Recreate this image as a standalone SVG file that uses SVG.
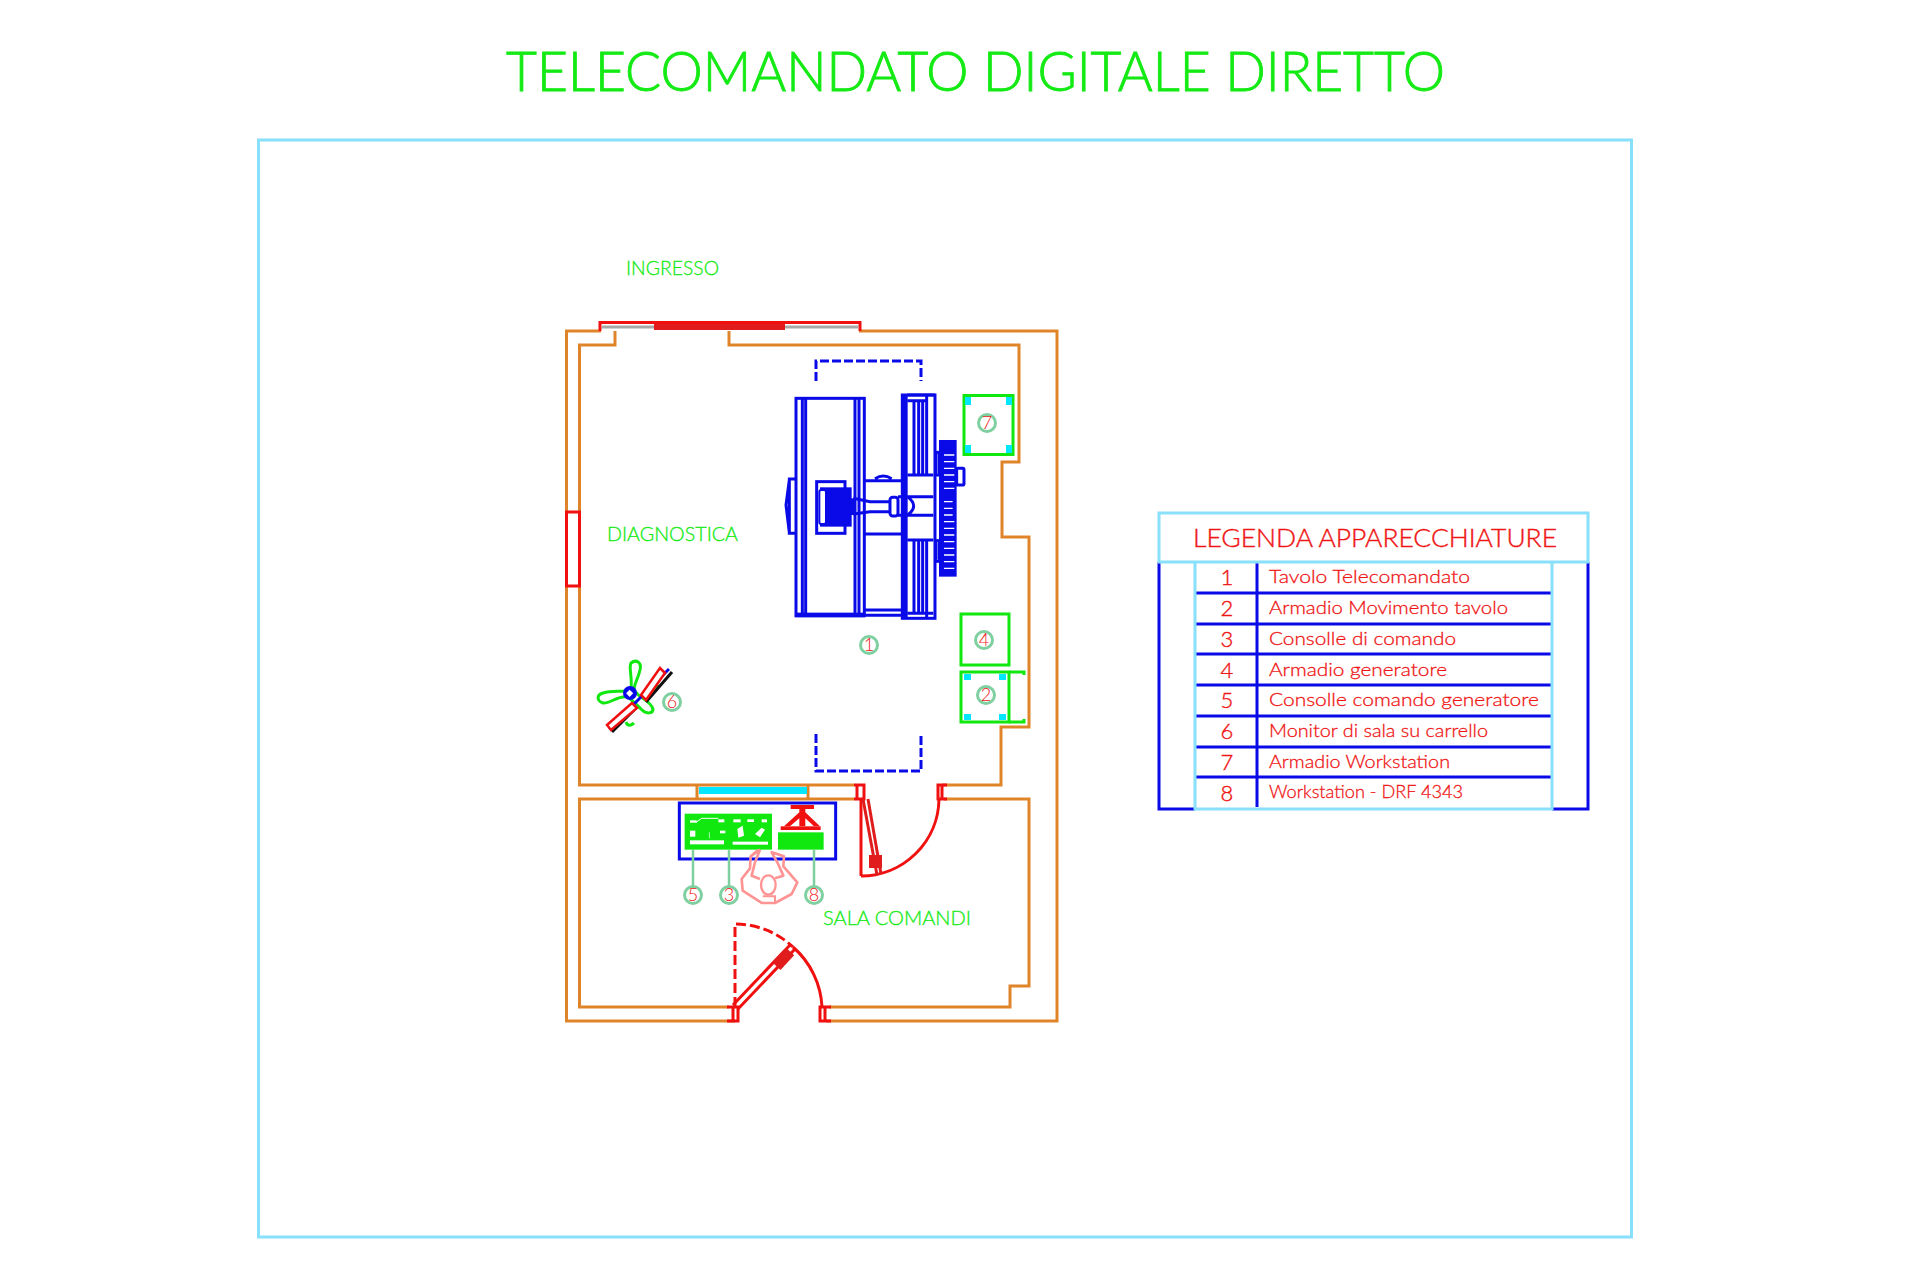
<svg xmlns="http://www.w3.org/2000/svg" width="1920" height="1280" viewBox="0 0 1920 1280">
<style>
text{font-family:"Lato","Liberation Sans",sans-serif;font-weight:300}
.g{fill:#14ea14;stroke:#14ea14;stroke-width:.9}.r{fill:#f01515;stroke:#f01515;stroke-width:.4}
.wall{fill:none;stroke:#e0842a;stroke-width:3;stroke-linejoin:miter}
.red{fill:none;stroke:#f01010;stroke-width:3}
.bl{fill:none;stroke:#0a0ae8;stroke-width:9}
.blf{fill:#0a0ae8}
.eq{fill:none;stroke:#10e810;stroke-width:3}
.cy{fill:#00e6ff}
.cyl{fill:none;stroke:#88e0fa;stroke-width:3}
.bline{fill:none;stroke:#0a0ae8;stroke-width:3}
.tag{fill:#fff;stroke:#7fd0a0;stroke-width:3}
.tagt{fill:#f01515;font-size:18px;text-anchor:middle}
.lab{fill:#14ea14;stroke:#14ea14;stroke-width:.3;font-size:19px}
.num{fill:#f01515;stroke:#f01515;stroke-width:.4;font-size:22px;text-anchor:middle}
.leg{fill:#f01515;stroke:#f01515;stroke-width:.3;font-size:18.5px}
</style>
<rect width="1920" height="1280" fill="#fff"/>
<text class="g" x="506" y="91" font-size="56" textLength="939" lengthAdjust="spacingAndGlyphs">TELECOMANDATO DIGITALE DIRETTO</text>
<rect class="cyl" x="258.500" y="140" width="1373" height="1097"/>

<g id="plan" transform="translate(0 -1)">
<g id="walls">
<path class="wall" d="M601 332H566.500V1022H735M826 1022H1057V332H859"/>
<path class="wall" d="M729 332V346H1019V463H1002V538H1029V728H1001V786H942M854 786H579.500V346H615V332"/>
<path class="wall" d="M854 800H579.500V1008H729M829 1008H1010V987H1029V800H944"/>
<path class="wall" d="M697 786V800M808 786V800"/>
<rect class="cy" x="699" y="788" width="108" height="7"/>
<rect class="red" x="566.500" y="513" width="13" height="74"/>
</g>

<g id="entrance-door">
<path class="red" stroke-width="4" d="M600 332V323.500H860V332"/>
<path d="M602 328H654M785 328H858" fill="none" stroke="#a8a8a8" stroke-width="3"/>
<rect x="654" y="325" width="131" height="6" fill="#e01c1c"/>
</g>

<g id="door-upper">
<path class="red" stroke-width="3.500" d="M854 786H864V800H854M857 786V800M947 786H938V800H947M942 786V800"/>
<path class="red" d="M861 800V877M861 877A78 78 0 0 0 939 800"/>
<path d="M863 800L877 876M868 800L881 875" fill="none" stroke="#e01c1c" stroke-width="3"/>
<rect x="869" y="856" width="13" height="13" fill="#e01c1c"/>
</g>

<g id="door-lower">
<path class="red" stroke-width="3.500" d="M727 1008H738V1022H727M733 1008V1022M831 1008H820V1022H831M825 1008V1022"/>
<path class="red" stroke-dasharray="10 4" d="M735 1008V925A85 85 0 0 1 793 948"/>
<path class="red" d="M793 948A85 85 0 0 1 822 1008"/>
<path class="red" d="M733 1006L790 946M738 1010L795 950"/>
<rect x="-6" y="-11" width="11" height="20" fill="#e01c1c" transform="translate(783 961) rotate(43)"/>
</g>

<g id="console" transform="translate(660 780) scale(.3333)">
<rect x="58" y="72" width="469" height="168" fill="none" stroke="#0a0ae8" stroke-width="9"/>
<rect x="74" y="104" width="262" height="108" fill="#10e810"/>
<rect x="354" y="160" width="137" height="52" fill="#10e810"/>
<g fill="#fff">
<rect x="90" y="124" width="20" height="7"/><rect x="175" y="121" width="18" height="9"/>
<rect x="90" y="155" width="16" height="18"/><rect x="180" y="155" width="16" height="8"/>
<rect x="90" y="184" width="102" height="12"/><rect x="220" y="121" width="22" height="9"/>
<rect x="262" y="121" width="20" height="8"/><rect x="305" y="121" width="16" height="9"/>
<path d="M232 150L248 140L252 170L235 176ZM285 165L305 146L315 152L300 175Z"/>
<rect x="218" y="188" width="106" height="9"/>
</g>
<path d="M108 130L125 118H175" fill="none" stroke="#fff" stroke-width="3"/>
<path d="M148 160V178" stroke="#fff" stroke-width="2"/>
<g fill="#f01010">
<rect x="392" y="78" width="70" height="12"/>
<rect x="362" y="142" width="120" height="11"/>
<path d="M418 90H436V100L480 142H462L436 118V142H418V118L390 142H372L418 100Z"/>
</g>
<path d="M300 212L272 232L270 268L245 300L248 335L305 372H345L395 345L412 310L370 262L372 232L335 220L352 250L370 290L345 298M300 212L285 250L275 290L300 300" fill="none" stroke="#ff9494" stroke-width="8" stroke-linejoin="round"/>
<ellipse cx="325" cy="318" rx="22" ry="29" fill="#fff" stroke="#ff9494" stroke-width="7"/>
<path d="M272 232L290 215L300 212M335 220L352 225L372 232M308 352L345 352V370" fill="none" stroke="#ff9494" stroke-width="6"/>
</g>
<g id="leaders" fill="none" stroke="#7fd0a0" stroke-width="2.500">
<path d="M693 851V887M729 851V887M814 851V887"/>
</g>
<g id="tag-5"><circle class="tag" cx="693" cy="896" r="8.500"/><text class="tagt" x="693" y="902">5</text></g>
<g id="tag-3"><circle class="tag" cx="729" cy="896" r="8.500"/><text class="tagt" x="729" y="902">3</text></g>
<g id="tag-8"><circle class="tag" cx="814" cy="896" r="8.500"/><text class="tagt" x="814" y="902">8</text></g>
</g>

<g id="node-1" transform="translate(770 380) scale(.3333)">
<rect class="bl" x="78" y="55" width="205" height="652"/>
<path class="bl" d="M97 55V705M107 55V705M255 55V705M267 55V705"/>
<rect class="blf" x="75" y="698" width="210" height="14"/>
<rect class="bl" x="397" y="45" width="98" height="670"/>
<rect class="blf" x="397" y="45" width="16" height="670"/>
<path class="bl" stroke-width="7" d="M432 60V285M446 60V285M458 60V285M470 45V285M432 482V700M446 482V700M458 482V700M470 482V715"/>
<path class="bl" d="M412 285H490M412 480H490M412 45H495M412 62H470M412 700H490"/>
<path class="bl" d="M283 302H397M283 462H397M283 690H397M283 706H397M315 296Q340 280 365 296"/>
<path d="M250 355L300 365H362M250 402L300 395H362" class="bl"/>
<rect class="bl" fill="#fff" x="360" y="352" width="24" height="56" rx="8"/>
<path class="bl" d="M384 350H490M384 406H490M412 350Q450 378 412 406"/>
<rect class="bl" x="140" y="305" width="85" height="155"/>
<rect class="blf" x="150" y="322" width="95" height="118"/>
<rect x="148" y="330" width="20" height="102" fill="#fff" stroke="#0a0ae8" stroke-width="6" rx="6"/>
<rect class="blf" x="240" y="355" width="12" height="50"/>
<path class="bl" d="M75 297H58V460H75M58 300L48 375L58 458" stroke-width="7"/>
<rect class="blf" x="507" y="180" width="53" height="410"/>
<path d="M522 225H553M522 245H553M522 265H553M522 285H553M522 305H553M522 325H553M522 365H548M522 385H548M522 405H548M522 425H553M522 445H553M522 465H553M522 485H553M522 505H553M522 525H553M522 545H553M522 565H553" stroke="#fff" stroke-width="4" fill="none"/>
<rect class="bl" x="497" y="217" width="10" height="68" stroke-width="6"/>
<rect class="bl" x="497" y="482" width="10" height="62" stroke-width="6"/>
<rect class="bl" x="560" y="265" width="22" height="50" rx="4" stroke-width="7"/>
</g>
<g id="table-bracket">
<path class="bline" stroke-dasharray="9 3" d="M816 381V361H921V381"/>
<path class="bline" stroke-dasharray="9 3" d="M816 734V771H921V734"/>
</g>
<g id="tag-1"><circle class="tag" cx="869" cy="645" r="8.500"/><text class="tagt" x="869" y="651">1</text></g>

<g id="node-7">
<rect class="eq" x="964" y="395.500" width="49" height="59"/>
<rect class="cy" x="965" y="397" width="6" height="8"/><rect class="cy" x="1006" y="397" width="6" height="8"/>
<rect class="cy" x="965" y="445" width="6" height="8"/><rect class="cy" x="1006" y="445" width="6" height="8"/>
<circle class="tag" cx="987" cy="423" r="8.500"/><text class="tagt" x="987" y="429">7</text>
</g>
<g id="node-4">
<rect class="eq" x="961" y="614" width="48" height="51"/>
<circle class="tag" cx="984" cy="640" r="8.500"/><text class="tagt" x="984" y="646">4</text>
</g>
<g id="node-2">
<rect class="eq" x="961" y="672" width="48" height="50"/>
<path class="eq" d="M1009 672H1024V675M1009 722H1024V719"/>
<rect class="cy" x="964" y="674" width="7" height="6"/><rect class="cy" x="999" y="674" width="7" height="6"/>
<rect class="cy" x="964" y="714" width="7" height="6"/><rect class="cy" x="999" y="714" width="7" height="6"/>
<circle class="tag" cx="986" cy="695" r="8.500"/><text class="tagt" x="986" y="701">2</text>
</g>

<g id="node-6">
<path d="M630 693C634 682 628 668 631 663C636 659 642 662 640 670C638 679 634 684 634 690C641 700 650 700 653 709C653 714 646 714 642 710C638 706 634 702 628 697C618 695 610 704 603 703C597 701 596 695 603 693C612 690 620 692 628 691Z" fill="none" stroke="#10e810" stroke-width="3"/>
<path d="M648 694Q658 692 658 685M626 722Q628 728 634 723" fill="none" stroke="#10e810" stroke-width="3"/>
<path d="M612 732L637 707M646 702L672 672" stroke="#111" stroke-width="3"/>
<path d="M609 729L669 669" stroke="#0a0ae8" stroke-width="3"/>
<path d="M607 725L632 703L637 708L611 730ZM641 695L660 668L665 673L646 700Z" fill="#fff" stroke="#f01010" stroke-width="2.500"/>
<circle cx="630" cy="693" r="7" fill="#0a0ae8"/>
<rect x="627.500" y="691" width="5" height="5" fill="#fff" transform="rotate(45 630 693)"/>
<circle class="tag" cx="672" cy="702" r="8.500"/><text class="tagt" x="672" y="708">6</text>
</g>

<text class="lab" x="626" y="275" textLength="93" lengthAdjust="spacingAndGlyphs">INGRESSO</text>
<text class="lab" x="607" y="541" textLength="131" lengthAdjust="spacingAndGlyphs">DIAGNOSTICA</text>
<text class="lab" x="823" y="925" textLength="148" lengthAdjust="spacingAndGlyphs">SALA COMANDI</text>

<g id="legend">
<path class="bline" d="M1159 562V809H1195M1588 562V809H1552M1257 562V807M1195 593H1552M1195 624H1552M1195 654H1552M1195 685H1552M1195 716H1552M1195 747H1552M1195 777H1552"/>
<path class="cyl" d="M1159 562V513H1588V562ZM1195 562V809H1552V562"/>
<text class="r" x="1193" y="547" font-size="25" textLength="364" lengthAdjust="spacingAndGlyphs">LEGENDA APPARECCHIATURE</text>
<text class="num" x="1227" y="585">1</text><text class="num" x="1227" y="616">2</text><text class="num" x="1227" y="647">3</text><text class="num" x="1227" y="678">4</text><text class="num" x="1227" y="708">5</text><text class="num" x="1227" y="739">6</text><text class="num" x="1227" y="770">7</text><text class="num" x="1227" y="801">8</text>
<text class="leg" x="1269" y="583.300" textLength="201" lengthAdjust="spacingAndGlyphs">Tavolo Telecomandato</text>
<text class="leg" x="1269" y="614.300" textLength="239" lengthAdjust="spacingAndGlyphs">Armadio Movimento tavolo</text>
<text class="leg" x="1269" y="645" textLength="187" lengthAdjust="spacingAndGlyphs">Consolle di comando</text>
<text class="leg" x="1269" y="675.700" textLength="178" lengthAdjust="spacingAndGlyphs">Armadio generatore</text>
<text class="leg" x="1269" y="706.300" textLength="270" lengthAdjust="spacingAndGlyphs">Consolle comando generatore</text>
<text class="leg" x="1269" y="737.300" textLength="219" lengthAdjust="spacingAndGlyphs">Monitor di sala su carrello</text>
<text class="leg" x="1269" y="768" textLength="181" lengthAdjust="spacingAndGlyphs">Armadio Workstation</text>
<text class="leg" x="1269" y="798" textLength="194" lengthAdjust="spacingAndGlyphs">Workstation - DRF 4343</text>
</g>
</svg>
